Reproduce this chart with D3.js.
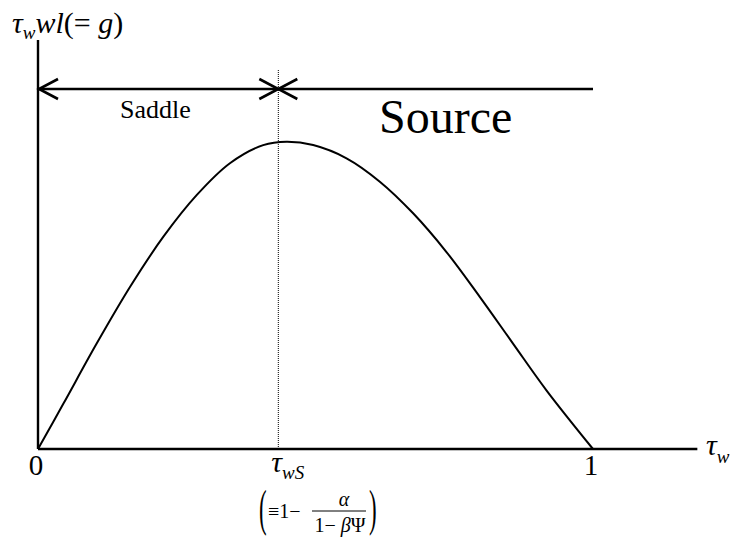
<!DOCTYPE html>
<html>
<head>
<meta charset="utf-8">
<script src="https://cdn.jsdelivr.net/npm/d3@7/dist/d3.min.js"></script>
</head>
<body style="margin:0">
<svg id="chart" width="737" height="540">
  <!-- vertical axis title: τw wl(= g) -->
  <text x="12" y="33" font-family="'Liberation Serif', 'Times New Roman', 'DejaVu Serif', serif" font-size="30"><tspan font-style="italic">τ</tspan><tspan font-style="italic" font-size="19" dy="6">w</tspan><tspan font-style="italic" dy="-6">wl</tspan><tspan>(= </tspan><tspan font-style="italic">g</tspan><tspan>)</tspan></text>
</svg>
<script>
// Curve g(τw) = τw·w·l, normalised so the peak is 1
const tauValues = [0, 0.0456, 0.1057, 0.1657, 0.2256, 0.2858, 0.3458, 0.4058, 0.4479,
                   0.4958, 0.5559, 0.6159, 0.6759, 0.7360, 0.7960, 0.8559, 0.9161, 1];
const gValues   = [0, 0.147, 0.343, 0.527, 0.690, 0.826, 0.930, 0.989, 1.0,
                   0.989, 0.946, 0.870, 0.767, 0.641, 0.495, 0.343, 0.191, 0];
const tauS = 0.433;             // saddle / source threshold τwS
const xTickValues = [0, 1];
const xTickLabels = ["0", "1"];
const regionLabels = ["Saddle", "Source"];

const svg = d3.select("#chart");
const SERIF = "'Liberation Serif', 'Times New Roman', 'DejaVu Serif', serif";

const x = d3.scaleLinear().domain([0, 1]).range([38, 593]);
const y = d3.scaleLinear().domain([0, 1]).range([449, 141.7]);

const xAxisEnd = 1.188;    // horizontal axis runs past τw = 1
const yAxisTop = 1.331;    // vertical axis height
const arrowLevel = 1.1715; // level of the regime arrows

function label(parent) {
  return parent.append("text").attr("font-family", SERIF);
}

// Axes
svg.append("line")
  .attr("x1", x(0)).attr("y1", y(0)).attr("x2", x(xAxisEnd)).attr("y2", y(0))
  .attr("stroke", "#000").attr("stroke-width", 2.6);
svg.append("line")
  .attr("x1", x(0)).attr("y1", y(0)).attr("x2", x(0)).attr("y2", y(yAxisTop))
  .attr("stroke", "#000").attr("stroke-width", 2.4);

// Dotted threshold line at τwS
svg.append("line")
  .attr("x1", x(tauS)).attr("y1", y(0)).attr("x2", x(tauS)).attr("y2", y(arrowLevel) - 19)
  .attr("stroke", "#000").attr("stroke-width", 1).attr("stroke-dasharray", "1,1");

// The curve
const line = d3.line()
  .x((d, i) => x(tauValues[i]))
  .y(d => y(d))
  .curve(d3.curveCatmullRom.alpha(0.5));
svg.append("path")
  .datum(gValues)
  .attr("d", line)
  .attr("fill", "none")
  .attr("stroke", "#000")
  .attr("stroke-width", 2);

// Regime arrows
const ay = y(arrowLevel);
svg.append("line")
  .attr("x1", x(0)).attr("y1", ay).attr("x2", x(1)).attr("y2", ay)
  .attr("stroke", "#000").attr("stroke-width", 2.6);

function chevron(tipX, dir) {
  // dir = -1 points left, +1 points right
  const len = 19, half = 10;
  svg.append("path")
    .attr("d", `M${tipX - dir * len},${ay - half} L${tipX},${ay} L${tipX - dir * len},${ay + half}`)
    .attr("fill", "none").attr("stroke", "#000").attr("stroke-width", 2.6);
}
chevron(x(0) + 1, -1);
chevron(x(tauS), 1);
chevron(x(tauS), -1);

label(svg).attr("x", 120).attr("y", 118)
  .attr("font-size", 26).text(regionLabels[0]);
label(svg).attr("x", 379).attr("y", 133)
  .attr("font-size", 48).text(regionLabels[1]);

// Tick labels
svg.selectAll("text.tick").data(xTickValues).enter().append("text")
  .attr("class", "tick")
  .attr("font-family", SERIF)
  .attr("x", d => x(d) - 2)
  .attr("y", 475)
  .attr("text-anchor", "middle")
  .attr("font-size", 29)
  .text((d, i) => xTickLabels[i]);

// Horizontal axis title: τw
const xt = label(svg).attr("x", 706).attr("y", 455).attr("font-size", 30);
xt.append("tspan").attr("font-style", "italic").text("τ");
xt.append("tspan").attr("font-style", "italic").attr("font-size", 19).attr("dy", 8).text("w");

// Threshold label τwS
const st = label(svg).attr("x", x(tauS) - 7).attr("y", 472).attr("font-size", 30);
st.append("tspan").attr("font-style", "italic").text("τ");
st.append("tspan").attr("font-style", "italic").attr("font-size", 19).attr("dy", 7).text("wS");

// Definition (≡ 1 − α / (1 − βΨ))
const f = svg.append("g");
label(f).attr("transform", "translate(259,525) scale(0.5,1.12)")
  .attr("font-size", 46).text("(");
label(f).attr("transform", "translate(369,525) scale(0.5,1.12)")
  .attr("font-size", 46).text(")");
label(f).attr("x", 268).attr("y", 518).attr("font-size", 20).text("≡1−");
f.append("line").attr("x1", 312).attr("x2", 366).attr("y1", 511).attr("y2", 511)
  .attr("stroke", "#000").attr("stroke-width", 1);
label(f).attr("x", 344).attr("y", 506).attr("text-anchor", "middle")
  .attr("font-size", 20).attr("font-style", "italic").text("α");
const den = label(f).attr("x", 340).attr("y", 532).attr("text-anchor", "middle")
  .attr("font-size", 20);
den.append("tspan").text("1− ");
den.append("tspan").attr("font-style", "italic").text("β");
den.append("tspan").text("Ψ");
</script>
</body>
</html>
